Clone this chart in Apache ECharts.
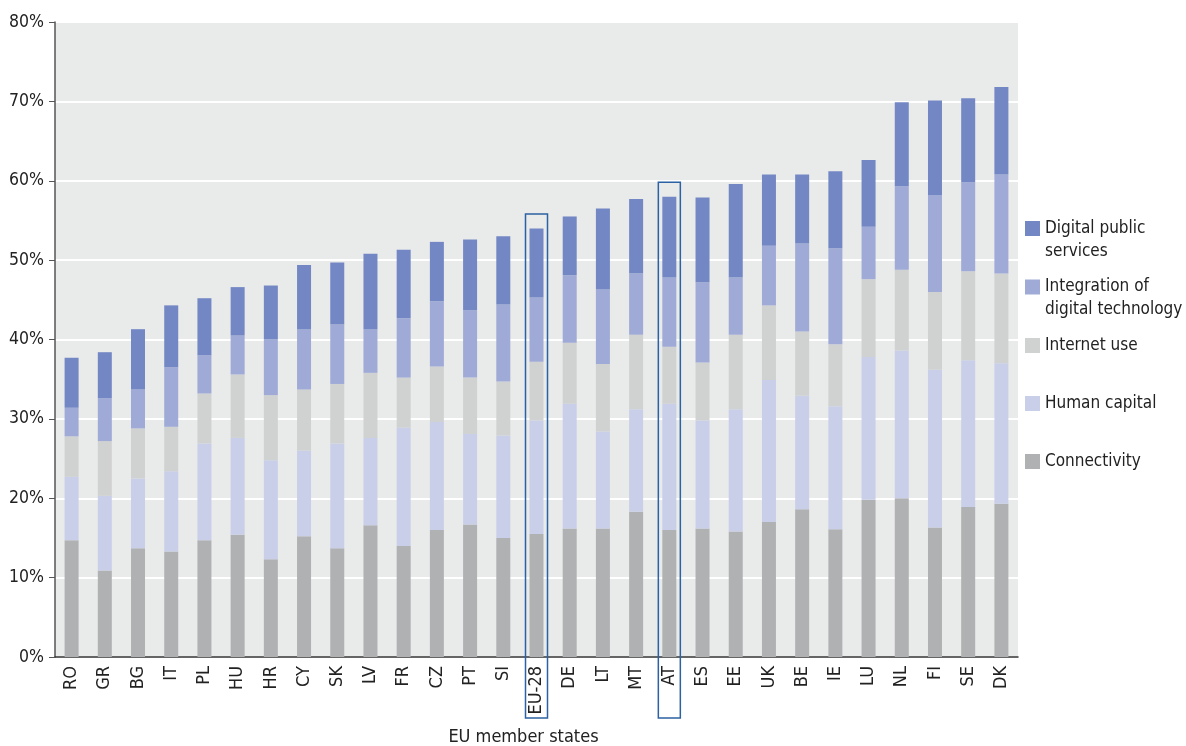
<!DOCTYPE html>
<html>
<head>
<meta charset="utf-8">
<script src="https://cdn.jsdelivr.net/npm/echarts@6/dist/echarts.min.js"></script>
<style>
html,body{margin:0;padding:0;background:#fff;}
#chart{width:1186px;height:746px;}
</style>
</head>
<body>
<div id="chart"></div>
<script>
const categories = ['RO','GR','BG','IT','PL','HU','HR','CY','SK','LV','FR','CZ','PT','SI','EU-28','DE','LT','MT','AT','ES','EE','UK','BE','IE','LU','NL','FI','SE','DK'];
const connectivity = [14.7,10.9,13.7,13.3,14.7,15.4,12.3,15.2,13.7,16.6,14.0,16.0,16.7,15.0,15.5,16.2,16.2,18.3,16.0,16.2,15.8,17.0,18.6,16.1,19.8,20.0,16.3,18.9,19.3];
const humanCapital = [8.0,9.4,8.8,10.1,12.2,12.2,12.5,10.8,13.2,11.0,14.9,13.6,11.4,12.9,14.3,15.7,12.2,12.9,15.9,13.6,15.4,17.9,14.3,15.5,18.0,18.6,19.9,18.5,17.7];
const internetUse = [5.1,6.9,6.3,5.6,6.3,8.0,8.2,7.7,7.5,8.2,6.3,7.0,7.1,6.8,7.4,7.7,8.5,9.4,7.2,7.3,9.4,9.4,8.1,7.8,9.8,10.2,9.8,11.2,11.3];
const integration = [3.6,5.4,4.9,7.5,4.8,4.9,7.0,7.6,7.5,5.5,7.5,8.2,8.5,9.7,8.1,8.5,9.4,7.7,8.7,10.1,7.2,7.5,11.1,12.1,6.6,10.5,12.2,11.2,12.5];
const digitalPublic = [6.3,5.8,7.6,7.8,7.2,6.1,6.8,8.1,7.8,9.5,8.6,7.5,8.9,8.6,8.7,7.4,10.2,9.4,10.2,10.7,11.8,9.0,8.7,9.7,8.4,10.6,11.9,10.6,11.0];
const yTicks = [0,10,20,30,40,50,60,70,80];
const highlighted = ['EU-28','AT'];

const FONT = "'Liberation Sans Narrow','DejaVu Sans Condensed','Liberation Sans',sans-serif";
const names = {
  dps: 'Digital public\nservices',
  idt: 'Integration of\ndigital technology',
  iu: 'Internet use',
  hc: 'Human capital',
  co: 'Connectivity'
};
const colors = {
  dps: '#7387c4',
  idt: '#9faad6',
  iu: '#d0d2d1',
  hc: '#c9cfe9',
  co: '#b0b1b3'
};

const chart = echarts.init(document.getElementById('chart'), null, {renderer: 'canvas'});

function mkSeries(key, data) {
  return {
    name: names[key], type: 'bar', stack: 'total', data: data,
    barWidth: 14,
    itemStyle: {color: colors[key]},
    emphasis: {disabled: true}
  };
}

function mkLegend(key, top, twoLine) {
  return {
    data: [names[key]], orient: 'vertical', left: 1025, top: top, padding: 0,
    itemWidth: 15, itemHeight: 15, icon: 'rect',
    formatter: function (n) { return twoLine ? ' \n' + n : n; },
    textStyle: {fontFamily: FONT, fontSize: 17, color: '#222', lineHeight: 23}
  };
}

const option = {
  animation: false,
  grid: {left: 55, right: 168, top: 22, bottom: 89, show: true, backgroundColor: '#e9eaea', borderWidth: 0, outerBoundsMode: 'none', containLabel: false},
  legend: [
    mkLegend('dps', 194, true),
    mkLegend('idt', 252.5, true),
    mkLegend('iu', 334, false),
    mkLegend('hc', 392, false),
    mkLegend('co', 450, false)
  ],
  xAxis: {
    type: 'category', data: categories,
    name: 'EU member states', nameLocation: 'middle', nameGap: 71,
    nameTextStyle: {fontFamily: FONT, fontSize: 18, color: '#222', padding: [0, 26, 0, 0]},
    axisLine: {lineStyle: {color: '#333', width: 1.5}},
    axisTick: {length: 8, lineStyle: {color: '#333'}},
    axisLabel: {rotate: 90, fontFamily: FONT, fontSize: 18, color: '#222', margin: 9}
  },
  yAxis: {
    type: 'value', min: yTicks[0], max: yTicks[yTicks.length - 1], interval: 10,
    axisLine: {show: true, lineStyle: {color: '#555', width: 1.5}},
    axisTick: {show: true, length: 6, lineStyle: {color: '#555'}},
    axisLabel: {formatter: '{value}%', fontFamily: FONT, fontSize: 17.5, color: '#222', margin: 11},
    splitLine: {lineStyle: {color: '#ffffff', width: 2}}
  },
  series: [
    mkSeries('co', connectivity),
    mkSeries('hc', humanCapital),
    mkSeries('iu', internetUse),
    mkSeries('idt', integration),
    mkSeries('dps', digitalPublic)
  ]
};
chart.setOption(option);

// highlight boxes around selected categories
const graphics = highlighted.map(function (cat) {
  const i = categories.indexOf(cat);
  const total = connectivity[i] + humanCapital[i] + internetUse[i] + integration[i] + digitalPublic[i];
  const x = chart.convertToPixel({xAxisIndex: 0}, cat);
  const yTop = chart.convertToPixel({yAxisIndex: 0}, total + 1.8);
  const yBase = chart.convertToPixel({yAxisIndex: 0}, 0);
  return {
    type: 'rect', silent: true, z: 100,
    shape: {x: x - 11, y: yTop, width: 22, height: yBase + 61 - yTop},
    style: {fill: 'none', stroke: '#2b62a3', lineWidth: 1.5}
  };
});
chart.setOption({graphic: graphics});
</script>
</body>
</html>
